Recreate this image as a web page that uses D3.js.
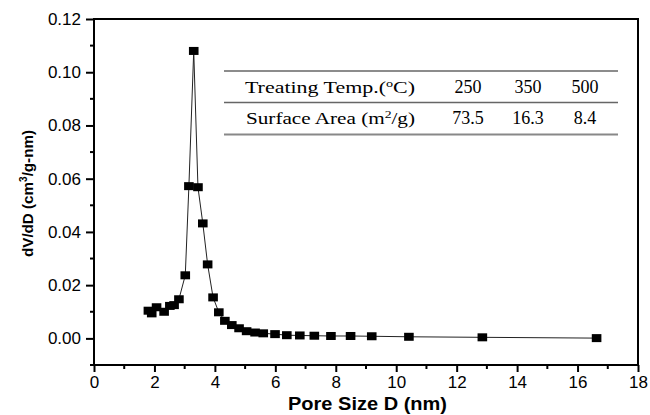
<!DOCTYPE html>
<html>
<head>
<meta charset="utf-8">
<script src="https://cdn.jsdelivr.net/npm/d3@7"></script>
<style>
  body { margin: 0; background: #fff; }
  svg { display: block; }
</style>
</head>
<body>
<svg width="650" height="415"></svg>
<script>
// pore size (nm) and dV/dD
const poreSize = [1.80, 1.91, 2.07, 2.32, 2.51, 2.65, 2.81, 3.02, 3.14, 3.30, 3.44, 3.60,
  3.76, 3.94, 4.13, 4.33, 4.56, 4.80, 5.05, 5.33, 5.60, 5.99, 6.38, 6.81, 7.29, 7.84,
  8.49, 9.19, 10.42, 12.85, 16.63];
const dVdD = [0.0104, 0.0094, 0.0117, 0.0100, 0.0122, 0.0125, 0.0147, 0.0237, 0.0572, 0.1080,
  0.0568, 0.0432, 0.0278, 0.0154, 0.0098, 0.0066, 0.0050, 0.0038, 0.0027, 0.0022, 0.0019,
  0.0016, 0.0012, 0.0011, 0.0010, 0.0009, 0.0009, 0.0008, 0.0006, 0.0004, 0.0001];

const xTicks = [0, 2, 4, 6, 8, 10, 12, 14, 16, 18];
const yTicks = [0.00, 0.02, 0.04, 0.06, 0.08, 0.10, 0.12];

// inset table
const tableRows = ["Treating Temp.", "Surface Area ("];
const temps = ["250", "350", "500"];
const areas = ["73.5", "16.3", "8.4"];

const svg = d3.select("svg");
const plotL = 94, plotR = 638, plotT = 19, plotB = 365;

const x = d3.scaleLinear().domain([0, 18]).range([plotL, plotR]);
const y = d3.scaleLinear().domain([-0.01, 0.12]).range([plotB, plotT]);

// frame
svg.append("rect")
  .attr("x", plotL).attr("y", plotT)
  .attr("width", plotR - plotL).attr("height", plotB - plotT)
  .attr("fill", "none").attr("stroke", "#000").attr("stroke-width", 2);

// minor ticks
const xMinor = d3.range(1, 18, 2);
const yMinor = d3.range(-0.01, 0.12, 0.02);

svg.append("g").selectAll("line").data(xMinor).enter().append("line")
  .attr("x1", d => x(d)).attr("x2", d => x(d))
  .attr("y1", plotB).attr("y2", plotB + 4)
  .attr("stroke", "#000").attr("stroke-width", 2);
svg.append("g").selectAll("line").data(yMinor).enter().append("line")
  .attr("x1", plotL - 4).attr("x2", plotL)
  .attr("y1", d => y(d)).attr("y2", d => y(d))
  .attr("stroke", "#000").attr("stroke-width", 2);

// axes
const xAxis = svg.append("g")
  .attr("transform", "translate(0," + plotB + ")")
  .call(d3.axisBottom(x).tickValues(xTicks).tickSize(7).tickPadding(4).tickFormat(d3.format("d")));
const yAxis = svg.append("g")
  .attr("transform", "translate(" + plotL + ",0)")
  .call(d3.axisLeft(y).tickValues(yTicks).tickSize(8).tickPadding(5).tickFormat(d3.format(".2f")));

[xAxis, yAxis].forEach(g => {
  g.select(".domain").remove();
  g.selectAll("line").attr("stroke", "#000").attr("stroke-width", 2);
  g.selectAll("text")
    .attr("fill", "#000")
    .style("font-family", "'Liberation Sans', Arial, sans-serif")
    .style("font-size", "17px");
});

// axis titles
svg.append("text")
  .attr("x", 288).attr("y", 410)
  .attr("textLength", 159).attr("lengthAdjust", "spacingAndGlyphs")
  .style("font-family", "'Liberation Sans', Arial, sans-serif")
  .style("font-weight", "bold").style("font-size", "18px")
  .text("Pore Size D (nm)");

const yl = svg.append("text")
  .attr("transform", "translate(33,257) rotate(-90)")
  .attr("textLength", 127).attr("lengthAdjust", "spacingAndGlyphs")
  .style("font-family", "'Liberation Sans', Arial, sans-serif")
  .style("font-weight", "bold").style("font-size", "15px");
yl.append("tspan").text("dV/dD (cm");
yl.append("tspan").attr("dy", -6).style("font-size", "10px").text("3");
yl.append("tspan").attr("dy", 6).text("/g-nm)");

// data line and markers
const pts = poreSize.map((d, i) => [d, dVdD[i]]);
svg.append("path")
  .datum(pts)
  .attr("fill", "none").attr("stroke", "#222").attr("stroke-width", 1)
  .attr("d", d3.line().x(d => x(d[0])).y(d => y(d[1])));

svg.append("g").selectAll("rect").data(pts).enter().append("rect")
  .attr("x", d => x(d[0]) - 4.8).attr("y", d => y(d[1]) - 4)
  .attr("width", 9.6).attr("height", 8)
  .attr("fill", "#000");

// inset table
const tbl = svg.append("g")
  .style("font-family", "'Liberation Serif', 'Times New Roman', serif")
  .style("font-size", "18px");
const tx0 = 224, tx1 = 618;
[[71, 1.3, "#666"], [102.5, 1.3, "#666"], [134.5, 2.2, "#888"]].forEach(r => {
  tbl.append("line").attr("x1", tx0).attr("x2", tx1).attr("y1", r[0]).attr("y2", r[0])
    .attr("stroke", r[2]).attr("stroke-width", r[1]);
});
const colX = [468, 528, 585];
const rowY = [93, 124];

const t1 = tbl.append("text").attr("x", 245).attr("y", rowY[0])
  .style("font-size", "17px")
  .attr("textLength", 170).attr("lengthAdjust", "spacingAndGlyphs");
t1.append("tspan").text(tableRows[0] + "(");
t1.append("tspan").attr("dy", -6).style("font-size", "11px").text("o");
t1.append("tspan").attr("dy", 6).text("C)");

const t2 = tbl.append("text").attr("x", 246).attr("y", rowY[1])
  .style("font-size", "17px")
  .attr("textLength", 169).attr("lengthAdjust", "spacingAndGlyphs");
t2.append("tspan").text(tableRows[1] + "m");
t2.append("tspan").attr("dy", -6).style("font-size", "11px").text("2");
t2.append("tspan").attr("dy", 6).text("/g)");

tbl.selectAll(".temp").data(temps).enter().append("text")
  .attr("x", (d, i) => colX[i]).attr("y", rowY[0]).attr("text-anchor", "middle").text(d => d);
tbl.selectAll(".area").data(areas).enter().append("text")
  .attr("x", (d, i) => colX[i]).attr("y", rowY[1]).attr("text-anchor", "middle").text(d => d);
</script>
</body>
</html>
